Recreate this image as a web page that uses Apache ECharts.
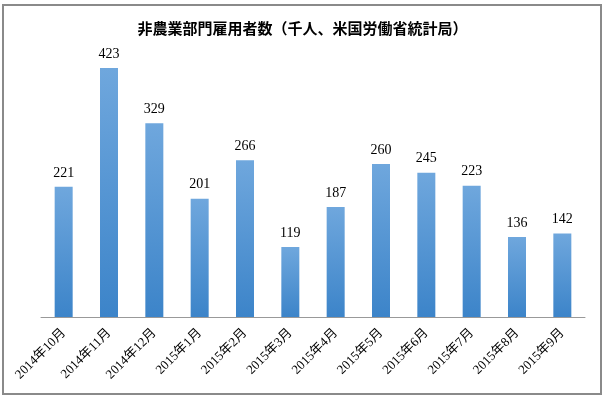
<!DOCTYPE html>
<html>
<head>
<meta charset="utf-8">
<script src="https://cdn.jsdelivr.net/npm/echarts@6/dist/echarts.min.js"></script>
<style>
html,body{margin:0;padding:0;background:#fff;}
#main{width:605px;height:399px;}
</style>
</head>
<body>
<div id="main"></div>
<script>
var months=['2014年10月','2014年11月','2014年12月','2015年1月','2015年2月','2015年3月','2015年4月','2015年5月','2015年6月','2015年7月','2015年8月','2015年9月'];
var jobs=[221,423,329,201,266,119,187,260,245,223,136,142];

var chart=echarts.init(document.getElementById('main'));
var option={
    backgroundColor:'#fff',
    animation:false,
    title:{
        text:'非農業部門雇用者数（千人、米国労働省統計局）',
        left:'center',
        top:16,
        textStyle:{fontFamily:'Noto Sans CJK JP',fontSize:15,fontWeight:'bold',color:'#000'}
    },
    graphic:[{
        type:'rect',
        shape:{x:3,y:5,width:598,height:389},
        style:{fill:'none',stroke:'#8a8a8a',lineWidth:2},
        silent:true
    }],
    grid:{left:41,right:20,top:52,bottom:82},
    xAxis:{
        type:'category',
        data:months,
        axisLine:{lineStyle:{color:'#999',width:1}},
        axisTick:{show:false},
        axisLabel:{
            rotate:45,
            interval:0,
            margin:14,
            color:'#000',
            fontSize:13,
            fontFamily:'Liberation Serif, Noto Sans CJK JP'
        }
    },
    yAxis:{
        type:'value',
        min:0,
        max:450,
        show:false
    },
    series:[{
        type:'bar',
        data:jobs,
        barWidth:18,
        itemStyle:{
            color:new echarts.graphic.LinearGradient(0,0,0,1,[
                {offset:0,color:'#6fa7dd'},
                {offset:1,color:'#3c84c9'}
            ])
        },
        label:{
            show:true,
            position:'top',
            distance:7,
            color:'#000',
            fontSize:14,
            fontFamily:'Liberation Serif'
        }
    }]
};
chart.setOption(option);
window.onresize=chart.resize;
</script>
</body>
</html>
